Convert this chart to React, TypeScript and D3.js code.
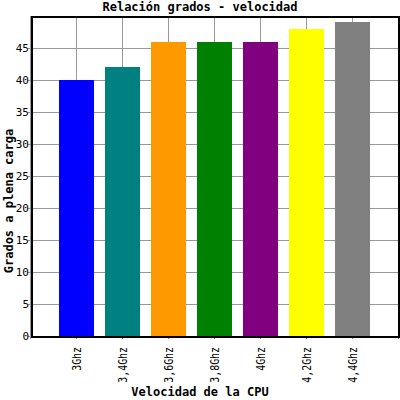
import React, { useEffect, useRef } from 'react';
import * as d3 from 'd3';

const categories = ['3Ghz', '3,4Ghz', '3,6Ghz', '3,8Ghz', '4Ghz', '4,2Ghz', '4,4Ghz'];
const values = [40, 42, 46, 46, 46, 48, 49];
const colors = ['#0000ff', '#008080', '#ff9900', '#008000', '#800080', '#ffff00', '#808080'];
const yTicks = [0, 5, 10, 15, 20, 25, 30, 35, 40, 45];

export default function App() {
  const svgRef = useRef<SVGSVGElement>(null);

  useEffect(() => {
    if (!svgRef.current) return;
    const svg = d3.select(svgRef.current);
    svg.selectAll('*').remove();

    const width = 400;
    const height = 400;
    const left = 31, right = 398, top = 16, bottom = 336;
    const font = "'DejaVu Sans Mono', monospace";

    const x = d3.scaleLinear().domain([0, categories.length + 1]).range([30, right]);
    const y = d3.scaleLinear().domain([0, 50]).range([bottom, top]);
    const barW = 35;

    svg.attr('width', width).attr('height', height).style('font-family', font);
    svg.append('rect').attr('width', width).attr('height', height).attr('fill', '#fff');

    // grid
    const grid = svg.append('g').attr('stroke', '#999').attr('stroke-width', 1).attr('shape-rendering', 'crispEdges');
    yTicks.forEach((t) => {
      grid.append('line').attr('x1', left - 3).attr('x2', right).attr('y1', Math.round(y(t)) + 0.5).attr('y2', Math.round(y(t)) + 0.5);
    });
    d3.range(0, categories.length + 2).forEach((i) => {
      grid.append('line').attr('x1', Math.round(x(i)) + 0.5).attr('x2', Math.round(x(i)) + 0.5).attr('y1', top).attr('y2', bottom + 3);
    });

    // bars
    svg.append('g').selectAll('rect').data(values).enter().append('rect')
      .attr('x', (d, i) => Math.round(x(i + 1) - barW / 2))
      .attr('y', (d) => Math.round(y(d)))
      .attr('width', barW)
      .attr('height', (d) => bottom - Math.round(y(d)))
      .attr('fill', (d, i) => colors[i])
      .attr('shape-rendering', 'crispEdges');

    // frame
    svg.append('rect')
      .attr('x', left + 0.5).attr('y', top + 0.5)
      .attr('width', right - left).attr('height', bottom - top)
      .attr('fill', 'none').attr('stroke', '#000').attr('stroke-width', 2)
      .attr('shape-rendering', 'crispEdges');

    // y labels
    svg.append('g').selectAll('text').data(yTicks).enter().append('text')
      .attr('x', 29).attr('y', (d) => y(d) + 4)
      .attr('text-anchor', 'end').attr('font-size', 11).attr('fill', '#000')
      .text((d) => d);

    // x labels
    svg.append('g').selectAll('text').data(categories).enter().append('text')
      .attr('transform', (d, i) => `translate(${x(i + 1) + 4.5},${bottom + 11}) rotate(-90) scale(0.86,1)`)
      .attr('text-anchor', 'end').attr('font-size', 11.5).attr('fill', '#000')
      .text((d) => d);

    svg.append('text').attr('x', 200).attr('y', 11).attr('text-anchor', 'middle')
      .attr('font-size', 12).attr('font-weight', 'bold').text('Relación grados - velocidad');
    svg.append('text').attr('x', 200).attr('y', 396).attr('text-anchor', 'middle')
      .attr('font-size', 12).attr('font-weight', 'bold').text('Velocidad de la CPU');
    svg.append('text').attr('transform', 'translate(13,201) rotate(-90)').attr('text-anchor', 'middle')
      .attr('font-size', 12).attr('font-weight', 'bold').text('Grados a plena carga');
  }, []);

  return (
    <div style={{ position: 'fixed', left: 0, top: 0 }}>
      <svg ref={svgRef} />
    </div>
  );
}
